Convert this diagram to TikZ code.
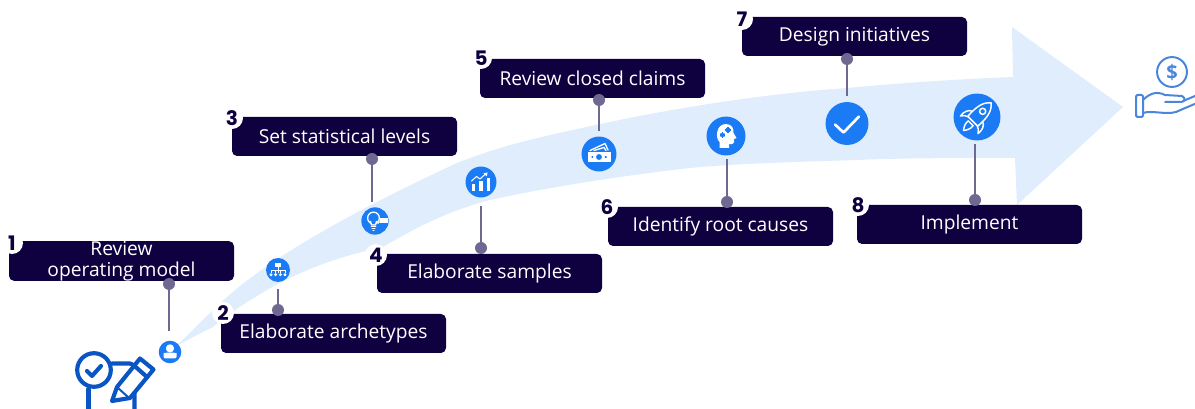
\documentclass[tikz,border=0pt]{standalone}
\usepackage{fontspec}
\setmainfont{Open Sans}
\newfontfamily\numfont{Poppins}[Scale=1.0]
\definecolor{boxc}{HTML}{0F0040}
\definecolor{linec}{HTML}{6F6891}
\definecolor{iconb}{HTML}{1B7BF5}
\definecolor{arrowc}{HTML}{DFEDFD}
\definecolor{bigb}{HTML}{0A55C4}
\definecolor{handc}{HTML}{4A86DC}
\tikzset{
 stepbox/.style={fill=boxc,rounded corners=3.8pt,minimum width=168.75pt,minimum height=29.25pt,inner sep=0pt,text=white,font=\fontsize{14.4pt}{15.75pt}\selectfont,align=center},
 badge/.style={circle,fill=white,minimum size=16.5pt,inner sep=0pt,text=boxc,font=\numfont\bfseries\fontsize{15pt}{15pt}\selectfont},
 pin/.style={circle,fill=linec,minimum size=9pt,inner sep=0pt},
 iconc/.style={circle,fill=iconb,inner sep=0pt},
 link/.style={draw=linec,line width=1.5pt},
 wl/.style={draw=white,line width=0.75pt,line cap=round,line join=round},
 wf/.style={fill=white},
 bigl/.style={draw=bigb,line width=3.1pt,line cap=round,line join=round},
 handl/.style={draw=handc,line width=1.5pt,line cap=round,line join=round},
}
\begin{document}
\begin{tikzpicture}[x=0.75pt,y=-0.75pt]
\useasboundingbox (0,0) rectangle (1195,409);
\clip (0,0) rectangle (1195,409);
% big arrow
\fill[arrowc] (176,346)
  .. controls (190,333) and (205,318) .. (213,310)
  .. controls (255,268) and (330,222) .. (457,163)
  .. controls (500,146) and (540,137) .. (573,130)
  .. controls (660,110) and (760,94) .. (847,88)
  .. controls (900,83) and (960,79) .. (1013,77)
  -- (1012,27) -- (1123,107) -- (1017,205) -- (1015,158)
  .. controls (960,158) and (900,158) .. (857,160)
  .. controls (790,162) and (730,164) .. (690,168)
  .. controls (620,176) and (550,187) .. (490,200)
  .. controls (450,210) and (415,228) .. (383,247)
  .. controls (345,255) and (305,268) .. (267,290)
  .. controls (245,303) and (225,316) .. (213,327)
  .. controls (200,333) and (188,340) .. (176,346) -- cycle;
% boxes
\node[stepbox] (b1) at (121.5,261) {Review\\operating model};
\node[stepbox] (b2) at (333.5,333.5) {Elaborate archetypes};
\node[stepbox] (b3) at (344.5,136.5) {Set statistical levels};
\node[stepbox] (b4) at (489.5,273.5) {Elaborate samples};
\node[stepbox] (b5) at (592.5,78.5) {Review closed claims};
\node[stepbox] (b6) at (720.5,226.5) {Identify root causes};
\node[stepbox] (b7) at (854.5,36.5) {Design initiatives};
\node[stepbox] (b8) at (969.5,224.5) {Implement};
% badges
\node[badge] (n1) at (12,243) {1};
\node[badge] (n2) at (223,313) {2};
\node[badge] (n3) at (232,118) {3};
\node[badge] (n4) at (376,255) {4};
\node[badge] (n5) at (481,58) {5};
\node[badge] (n6) at (607,207) {6};
\node[badge] (n7) at (742,19) {7};
\node[badge] (n8) at (858,205) {8};
% pins
\node[pin] (p1) at (169,284) {};
\node[pin] (p2) at (278,310) {};
\node[pin] (p3) at (372,159) {};
\node[pin] (p4) at (481,248) {};
\node[pin] (p5) at (599,100) {};
\node[pin] (p6) at (727,202) {};
\node[pin] (p7) at (847,59) {};
\node[pin] (p8) at (975,200) {};
% line ends
\coordinate (e1) at (169,331);
\coordinate (e2) at (278,289);
\coordinate (e3) at (372,202);
\coordinate (e4) at (481,206);
\coordinate (e5) at (599,131);
\coordinate (e6) at (727,159);
\coordinate (e7) at (847,96);
\coordinate (e8) at (975,144);
\foreach \i in {1,...,8} {\draw[link] (p\i) -- (e\i);}
% icon discs
\node[iconc,minimum size=16.9pt] (i1) at (170,352) {};
\node[iconc,minimum size=18pt] (i2) at (278,270) {};
\node[iconc,minimum size=20.5pt] (i3) at (375,221) {};
\node[iconc,minimum size=23.2pt] (i4) at (481,182) {};
\node[iconc,minimum size=26.2pt] (i5) at (599,154) {};
\node[iconc,minimum size=29.2pt] (i6) at (726,136) {};
\node[iconc,minimum size=32.2pt] (i7) at (847,123.5) {};
\node[iconc,minimum size=35.2pt] (i8) at (977,117) {};
% icon 1 person
\begin{scope}[shift={(i1)}]
 \fill[white] (0,-3.6) circle[radius=3.1pt];
 \fill[white,rounded corners=1.5pt] (-6.5,6.5) -- (-6.5,3.2) .. controls (-6.5,1) and (-3,0.6) .. (0,0.6) .. controls (3,0.6) and (6.5,1) .. (6.5,3.2) -- (6.5,6.5) -- cycle;
\end{scope}
% icon 2 org chart
\begin{scope}[shift={(i2)}]
 \fill[white] (-3,-7) rectangle (3,-2.8);
 \draw[white,line width=0.6pt] (0,-2.8) -- (0,3) (-7,3) -- (-7,0) -- (7,0) -- (7,3);
 \foreach \x in {-7,-2.4,2.4,7} {\fill[white] (\x,4.7) circle[radius=1.2pt];}
 \draw[white,line width=0.6pt] (-2.4,0) -- (-2.4,3) (2.4,0) -- (2.4,3);
\end{scope}
% icon 3 bulb
\begin{scope}[shift={(i3)}]
 \draw[white,line width=1pt] (-1.5,-3) circle[radius=4.4pt];
 \fill[iconb] (-4,1) rectangle (1,3);
 \draw[wl,line width=1pt] (-4.5,0.5) -- (-3.5,4) -- (0.5,4) -- (1.5,0.5);
 \draw[wl] (-3.8,6) -- (0.8,6) (-3,8) -- (0,8) (-2.2,10) -- (-0.8,10);
 \fill[white] (5,-3) rectangle (13,2);
 \draw[wl] (3,2.5) -- (5.5,0);
\end{scope}
% icon 4 chart
\begin{scope}[shift={(i4)}]
 \fill[white] (-9.5,2) rectangle (-6,9);
 \fill[white] (-2,-1) rectangle (1.5,9);
 \fill[white] (5.5,-4) rectangle (9,9);
 \draw[wl] (-9.5,-1) -- (-4.5,-5.5) -- (-1,-3) -- (5,-8.5);
 \fill[white] (6.5,-9.5) -- (2.5,-8.8) -- (5.8,-5.5) -- cycle;
\end{scope}
% icon 5 money
\begin{scope}[shift={(i5)}]
 \fill[white] (-11.5,-2) rectangle (11.5,8);
 \fill[iconb] (0,3) circle[radius=2.2pt];
 \fill[iconb] (-7.5,2.2) rectangle (-5.8,3.8) (5.8,2.2) rectangle (7.5,3.8);
 \draw[wl,line width=1pt] (-9,-3.5) -- (6,-10.5) -- (9,-4);
 \draw[wl,line width=1pt] (-5,-3.5) -- (5,-6.5) -- (7,-3.5);
\end{scope}
% icon 6 head
\begin{scope}[shift={(i6)}]
 \fill[white] (-6.5,12) -- (-6.5,6) .. controls (-11,2) and (-10,-12) .. (0,-12)
  .. controls (6,-12) and (8,-7) .. (7.5,-3) -- (10.5,2) -- (8,3) -- (8,6.5)
  .. controls (8,8.5) and (5,8.5) .. (3,8) -- (3,12) -- cycle;
 \foreach \cx/\cy in {-3.5/-1,2/-6} {
  \draw[iconb,line width=0.9pt] (\cx-2.6,\cy) -- (\cx+2.6,\cy) (\cx,\cy-2.6) -- (\cx,\cy+2.6);
  \draw[iconb,line width=0.8pt] (\cx-1.8,\cy-1.8) -- (\cx+1.8,\cy+1.8) (\cx-1.8,\cy+1.8) -- (\cx+1.8,\cy-1.8);
 }
\end{scope}
% icon 7 check
\begin{scope}[shift={(i7)}]
 \draw[white,line width=2pt,line cap=round,line join=round] (-12,1) -- (-3.5,9) -- (12,-7);
\end{scope}
% icon 8 rocket
\begin{scope}[shift={(i8)},rotate=-45]
 \draw[wl,line width=1.1pt] (-7,-1) .. controls (-12,1) and (-13,6) .. (-12.5,11) .. controls (-10,8) and (-9,7) .. (-6.5,6) -- cycle;
 \draw[wl,line width=1.1pt] (7,-1) .. controls (12,1) and (13,6) .. (12.5,11) .. controls (10,8) and (9,7) .. (6.5,6) -- cycle;
 \draw[wl,line width=1.1pt,fill=iconb] (0,-20) .. controls (6,-15) and (8,-8) .. (7,6) -- (-7,6) .. controls (-8,-8) and (-6,-15) .. (0,-20) -- cycle;
 \draw[wl,line width=1.1pt] (0,-8) circle[radius=2.3pt];
 \draw[wl,line width=1.1pt] (-3.5,9) .. controls (-4,13) and (-2,17) .. (0,19) .. controls (2,17) and (4,13) .. (3.5,9) -- cycle;
\end{scope}
% big check-list icon
\draw[bigl] (112,363.5) -- (130,363.5) .. controls (133,363.5) and (134.5,366) .. (134.5,368) -- (134.5,412);
\draw[bigl] (88.5,389) -- (88.5,412);
\draw[bigl,fill=white] (94,370) circle[radius=12.6pt];
\draw[bigl] (87,371) -- (92,376) -- (101,366);
\draw[bigl,fill=white] (112,401) -- (117,387) -- (140,358.5) -- (153.5,369.5) -- (130,398) -- cycle;
\draw[bigl] (134,365.5) -- (147,377);
\draw[bigl,line width=1.5pt] (118,388) -- (128,397);
% hand with dollar
\draw[handl] (1172,72) circle[radius=11.2pt];
\node[text=handc,inner sep=0pt,font=\bfseries\fontsize{15pt}{15pt}\selectfont] (dollar) at (1172,72) {\$};
\draw[handl,rounded corners=1pt] (1136,95) rectangle (1143,117);
\draw[handl] (1143,100) .. controls (1150,93) and (1157,91) .. (1165,95) -- (1182,96) .. controls (1186,98) and (1185,102) .. (1181,102) -- (1165,102);
\draw[handl] (1183,101) -- (1195,96);
\draw[handl] (1143,113) .. controls (1152,110) and (1165,115) .. (1176,112) .. controls (1185,108) and (1190,106) .. (1197,103);
\end{tikzpicture}
\end{document}
